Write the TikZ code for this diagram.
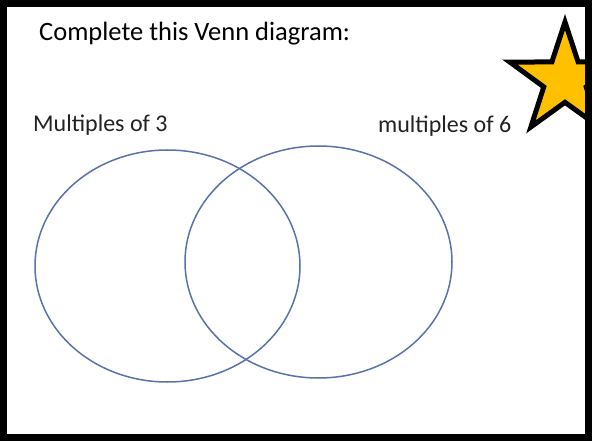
\documentclass[tikz,border=0pt]{standalone}
\usepackage{fontspec}
\setmainfont{Carlito}
\usetikzlibrary{shapes.geometric}
\definecolor{setline}{HTML}{5A73A6}
\definecolor{stargold}{HTML}{FFC000}
\definecolor{ink}{HTML}{222222}
\tikzset{
  title/.style={anchor=base west, inner sep=0pt, font=\fontsize{26.5}{30}\selectfont, text=black},
  setlabel/.style={anchor=base west, inner sep=0pt, font=\fontsize{24}{28}\selectfont, text=ink},
  setring/.style={draw=setline, line width=1.5pt},
  badge/.style={star, star points=5, star point ratio=2.6, minimum size=116pt, inner sep=0pt,
                fill=stargold, draw=black, line width=5pt},
}
\begin{document}
\begin{tikzpicture}[x=1pt, y=-1pt]
    \useasboundingbox (0,0) rectangle (595,441);
    \fill[white] (0,0) rectangle (595,441);

    % star, cut off by the frame
    \begin{scope}
      \clip (0,0) rectangle (589,441);
      \node[badge] (award) at (565,80) {};
    \end{scope}

    % frame
    \draw[line width=7pt] (3.5,3.5) rectangle (588.5,437.5);

    \node[title] (heading) at (39,41) {Complete this Venn diagram:};

    % the two sets
    \draw[setring] (167.5,266) ellipse [x radius=132.5, y radius=116];
    \draw[setring] (318.5,262) ellipse [x radius=133.5, y radius=116];
    \node[setlabel] (threes) at (33,132) {Multiples of 3};
    \node[setlabel] (sixes) at (378,133) {multiples of 6};
  \end{tikzpicture}
\end{document}
